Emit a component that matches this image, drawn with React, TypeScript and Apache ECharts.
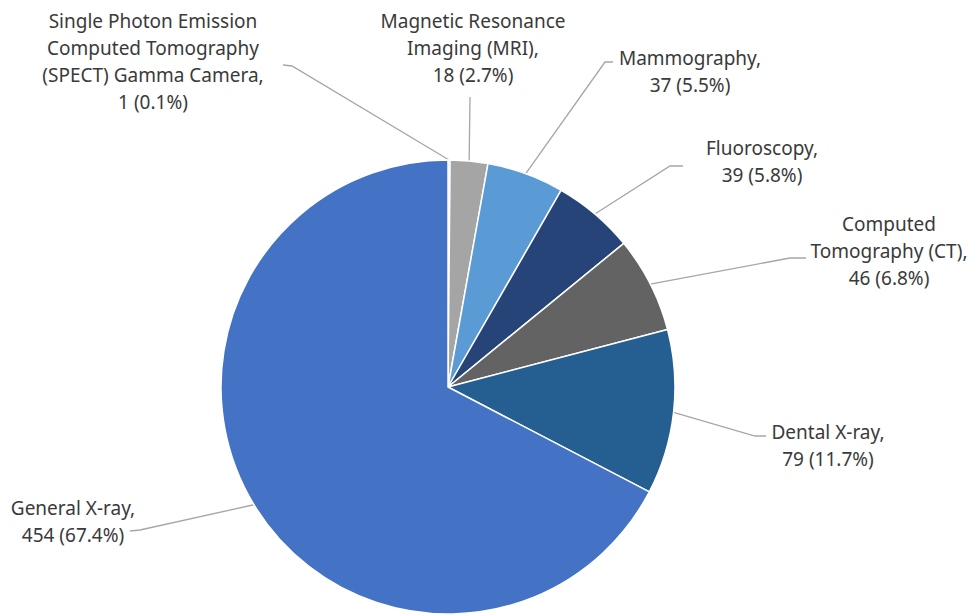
import React, { useEffect, useRef } from "react";
import * as echarts from "echarts";

const categories = [
  "Single Photon Emission Computed Tomography (SPECT) Gamma Camera",
  "Magnetic Resonance Imaging (MRI)",
  "Mammography",
  "Fluoroscopy",
  "Computed Tomography (CT)",
  "Dental X-ray",
  "General X-ray",
];
const values = [1, 18, 37, 39, 46, 79, 454];
const wrappedNames = [
  "Single Photon Emission\nComputed Tomography\n(SPECT) Gamma Camera,",
  "Magnetic Resonance\nImaging (MRI),",
  "Mammography,",
  "Fluoroscopy,",
  "Computed\nTomography (CT),",
  "Dental X-ray,",
  "General X-ray,",
];
const colors = ["#a5a5a5", "#a5a5a5", "#5b9bd5", "#264478", "#636363", "#255e91", "#4472c4"];

// layout: label centre, elbow and end of leader line
const CX = 448;
const CY = 387;
const R = 227;
const labelPos = [
  { x: 153, y: 61, elbow: [292, 66], end: [283, 65] },
  { x: 473, y: 48, elbow: [470, 98], end: [470, 97] },
  { x: 690, y: 71, elbow: [605, 62], end: [613, 62] },
  { x: 762, y: 161, elbow: [670, 166], end: [683, 166] },
  { x: 889, y: 251, elbow: [790, 258], end: [806, 258] },
  { x: 828, y: 445, elbow: [755, 436], end: [766, 436] },
  { x: 73, y: 521, elbow: [140, 530], end: [130, 531] },
];

export default function App() {
  const ref = useRef<HTMLDivElement>(null);
  useEffect(() => {
    if (!ref.current) return;
    const chart = echarts.init(ref.current, null, { renderer: "svg" });
    const total = values.reduce((a, b) => a + b, 0);
    const midAngles: number[] = [];
    let acc = 0;
    values.forEach((v) => {
      const a0 = (acc / total) * Math.PI * 2;
      acc += v;
      const a1 = (acc / total) * Math.PI * 2;
      midAngles.push((a0 + a1) / 2);
    });
    chart.setOption({
      animation: false,
      backgroundColor: "#ffffff",
      series: [
        {
          type: "pie",
          center: [CX, CY],
          radius: R,
          startAngle: 90,
          clockwise: true,
          avoidLabelOverlap: false,
          itemStyle: { borderColor: "#ffffff", borderWidth: 1.5 },
          label: {
            show: true,
            position: "outside",
            fontFamily: "Noto Sans",
            fontSize: 19,
            lineHeight: 27,
            color: "#3a3a3a",
            align: "center",
            formatter: (p: any) =>
              `${wrappedNames[p.dataIndex]}\n${p.value} (${((p.value / total) * 100).toFixed(1)}%)`,
          },
          labelLine: {
            show: true,
            lineStyle: { color: "#a6a6a6", width: 1.3 },
          },
          labelLayout: (p: any) => {
            const lp = labelPos[p.dataIndex];
            const a = midAngles[p.dataIndex];
            const sx = CX + R * Math.sin(a);
            const sy = CY - R * Math.cos(a);
            return {
              x: lp.x,
              y: lp.y,
              align: "center",
              verticalAlign: "middle",
              labelLinePoints: [[sx, sy], lp.elbow, lp.end],
            };
          },
          data: categories.map((name, i) => ({
            name,
            value: values[i],
            itemStyle: { color: colors[i] },
          })),
        },
      ],
    });
    return () => chart.dispose();
  }, []);
  return (
    <div
      ref={ref}
      style={{ position: "fixed", left: 0, top: 0, width: 970, height: 615 }}
    />
  );
}
